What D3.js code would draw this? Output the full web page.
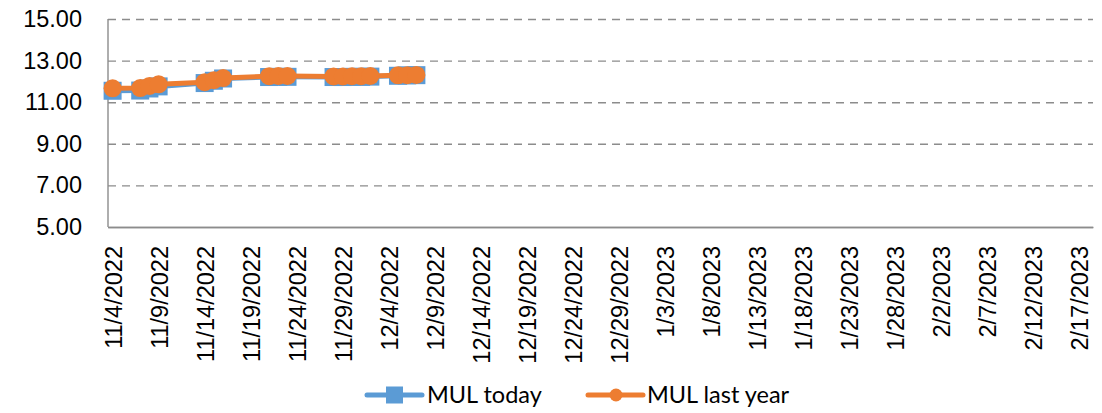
<!DOCTYPE html>
<html>
<head>
<meta charset="utf-8">
<script src="https://cdn.jsdelivr.net/npm/d3@7"></script>
<style>
  html, body { margin: 0; padding: 0; background: #fff; }
  svg { display: block; font-family: Lato, 'Open Sans', sans-serif; }
</style>
</head>
<body>
<svg id="chart" width="1102" height="413"></svg>
<script>
const dates = [
  '2022-11-04', '2022-11-07', '2022-11-08', '2022-11-09', '2022-11-14', '2022-11-15',
  '2022-11-16', '2022-11-21', '2022-11-22', '2022-11-23', '2022-11-28', '2022-11-29',
  '2022-11-30', '2022-12-01', '2022-12-02', '2022-12-05', '2022-12-06', '2022-12-07'
];
const todayValues = [
  11.55, 11.56, 11.66, 11.76, 11.92, 12.03, 12.14, 12.21, 12.22, 12.22,
  12.21, 12.21, 12.22, 12.22, 12.23, 12.27, 12.29, 12.30
];
const lastYearValues = [
  11.67, 11.68, 11.78, 11.86, 11.96, 12.06, 12.16, 12.25, 12.26, 12.26,
  12.24, 12.24, 12.25, 12.25, 12.26, 12.29, 12.30, 12.31
];
const yTickValues = [5, 7, 9, 11, 13, 15];
const xTickLabels = [
  '11/4/2022', '11/9/2022', '11/14/2022', '11/19/2022', '11/24/2022', '11/29/2022',
  '12/4/2022', '12/9/2022', '12/14/2022', '12/19/2022', '12/24/2022', '12/29/2022',
  '1/3/2023', '1/8/2023', '1/13/2023', '1/18/2023', '1/23/2023', '1/28/2023',
  '2/2/2023', '2/7/2023', '2/12/2023', '2/17/2023'
];
const seriesNames = ['MUL today', 'MUL last year'];

const blue = '#5b9bd5';
const orange = '#ed7d31';
const gridColor = '#8c8c8c';
const fontSize = 23.5;

const width = 1102;
const height = 413;
const padding = { top: 19, left: 108, bottom: 186, right: 9 };
const canvasWidth = width - padding.left - padding.right;
const canvasHeight = height - padding.top - padding.bottom;

const parseDate = d3.utcParse('%Y-%m-%d');
const parseLabel = d3.utcParse('%m/%d/%Y');
const tickDates = xTickLabels.map(parseLabel);

// date axis: every day is one band, points sit in the middle of their day
const firstDay = tickDates[0];
const lastDay = d3.utcDay.offset(tickDates[tickDates.length - 1], 1);
const xScale = d3.scaleUtc()
  .domain([d3.utcHour.offset(firstDay, -12), d3.utcHour.offset(lastDay, 12)])
  .range([0, canvasWidth]);
const yScale = d3.scaleLinear()
  .domain([yTickValues[0], yTickValues[yTickValues.length - 1]])
  .range([canvasHeight, 0]);

const series = [
  { name: seriesNames[0], color: blue, marker: 'square', values: todayValues },
  { name: seriesNames[1], color: orange, marker: 'circle', values: lastYearValues }
].map(s => ({
  ...s,
  points: s.values.map((v, i) => ({ date: parseDate(dates[i]), value: v }))
}));

const svg = d3.select('#chart');
const canvas = svg.append('g').attr('transform', `translate(${padding.left},${padding.top})`);

// y axis with dashed gridlines
const yAxis = d3.axisLeft(yScale)
  .tickValues(yTickValues)
  .tickSize(-canvasWidth)
  .tickPadding(26)
  .tickFormat(d3.format('.2f'));

const yAxisDOM = canvas.append('g').call(yAxis);
yAxisDOM.select('.domain').remove();
yAxisDOM.selectAll('line')
  .attr('stroke', gridColor)
  .attr('stroke-width', 1.4)
  .attr('stroke-dasharray', d => d === yTickValues[0] ? null : '8,6');
yAxisDOM.selectAll('text')
  .attr('fill', '#000')
  .style('font-size', `${fontSize}px`);

// left axis line
canvas.append('line')
  .attr('x1', 0).attr('x2', 0)
  .attr('y1', 0).attr('y2', canvasHeight)
  .attr('stroke', gridColor)
  .attr('stroke-width', 1.4);

// x axis
const xAxis = d3.axisBottom(xScale)
  .tickValues(tickDates)
  .tickSize(0)
  .tickFormat(d3.utcFormat('%-m/%-d/%Y'));

const xAxisDOM = canvas.append('g')
  .attr('transform', `translate(0,${canvasHeight})`)
  .call(xAxis);
xAxisDOM.select('.domain')
  .attr('stroke', gridColor)
  .attr('stroke-width', 1.4);
xAxisDOM.selectAll('text')
  .attr('fill', '#000')
  .style('font-size', `${fontSize}px`)
  .attr('transform', 'rotate(-90)')
  .attr('text-anchor', 'end')
  .attr('x', -19)
  .attr('y', 0)
  .attr('dy', '0.36em');

// series
const line = d3.line()
  .x(d => xScale(d.date))
  .y(d => yScale(d.value));

series.forEach(s => {
  const g = canvas.append('g');
  g.append('path')
    .datum(s.points)
    .attr('d', line)
    .attr('fill', 'none')
    .attr('stroke', s.color)
    .attr('stroke-width', 5)
    .attr('stroke-linejoin', 'round')
    .attr('stroke-linecap', 'round');

  if (s.marker === 'square') {
    g.selectAll('rect').data(s.points).enter().append('rect')
      .attr('x', d => xScale(d.date) - 9)
      .attr('y', d => yScale(d.value) - 9)
      .attr('width', 18)
      .attr('height', 18)
      .attr('fill', s.color);
  } else {
    g.selectAll('circle').data(s.points).enter().append('circle')
      .attr('cx', d => xScale(d.date))
      .attr('cy', d => yScale(d.value))
      .attr('r', 9)
      .attr('fill', s.color);
  }
});

// legend
const legendItems = [
  { x: 367, textX: 427 },
  { x: 588, textX: 647 }
];
const legend = svg.append('g').attr('transform', 'translate(0,395)');
series.forEach((s, i) => {
  const item = legend.append('g');
  const x0 = legendItems[i].x;
  item.append('line')
    .attr('x1', x0).attr('x2', x0 + 55)
    .attr('y1', 0).attr('y2', 0)
    .attr('stroke', s.color)
    .attr('stroke-width', 5)
    .attr('stroke-linecap', 'round');
  if (s.marker === 'square') {
    item.append('rect')
      .attr('x', x0 + 19).attr('y', -8.5)
      .attr('width', 17).attr('height', 17)
      .attr('fill', s.color);
  } else {
    item.append('circle')
      .attr('cx', x0 + 28).attr('cy', 0)
      .attr('r', 6.5)
      .attr('fill', s.color);
  }
  item.append('text')
    .attr('x', legendItems[i].textX)
    .attr('y', 0)
    .attr('dy', '0.35em')
    .attr('fill', '#000')
    .style('font-size', `${fontSize}px`)
    .text(s.name);
});
</script>
</body>
</html>
